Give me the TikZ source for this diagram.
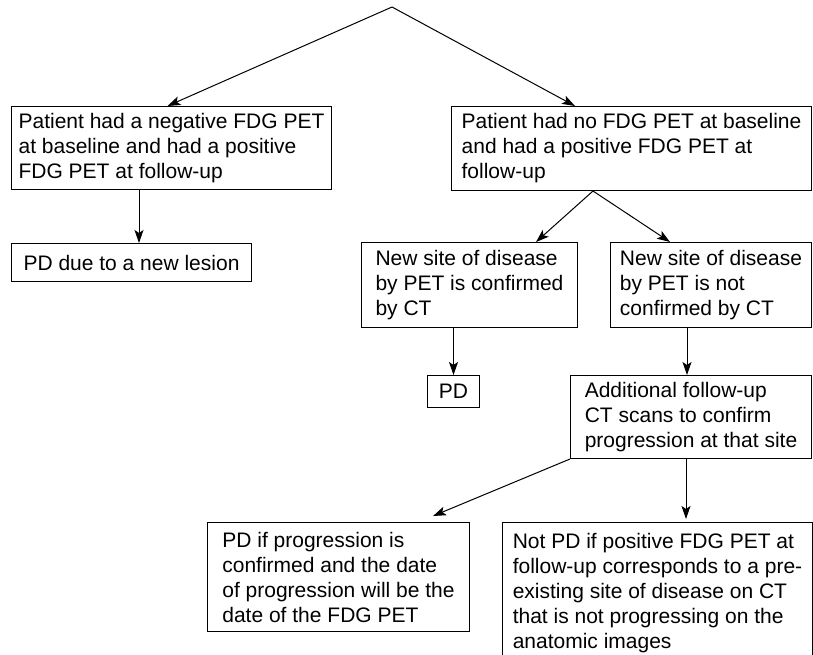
\documentclass[tikz,border=0pt]{standalone}
\usepackage{fontspec}
\setmainfont{Liberation Sans}
\usepackage{tikz}
\usetikzlibrary{arrows.meta,positioning}

\tikzset{
  box/.style={draw, line width=1pt, anchor=north west, align=left, inner sep=0pt,
    font=\fontsize{21}{25}\selectfont},
  arr/.style={line width=1pt, -{Stealth[length=13pt,width=9pt,inset=3pt]}}
}

\begin{document}
\begin{tikzpicture}[x=1pt,y=-1pt]
\useasboundingbox (0,0) rectangle (813,655);
\clip (0,0) rectangle (813,655);

\coordinate (top) at (392,7);

\node[box, minimum width=320pt, minimum height=83pt] (neg) at (11,106)
  {Patient had a negative FDG PET\\at baseline and had a positive\\FDG PET at follow-up};
\node[box, minimum width=360pt, minimum height=84pt] (nobase) at (451,106)
  {Patient had no FDG PET at baseline\\and had a positive FDG PET at\\follow-up};
\node[box, minimum width=240pt, minimum height=38pt] (lesion) at (11,243)
  {PD due to a new lesion};
\node[box, minimum width=216pt, minimum height=85pt] (conf) at (361,242)
  {New site of disease\\by PET is confirmed\\by CT};
\node[box, minimum width=201pt, minimum height=85pt] (notconf) at (610,242)
  {New site of disease\\by PET is not\\confirmed by CT};
\node[box, minimum width=52pt, minimum height=32pt] (pd) at (427,375) {PD};
\node[box, minimum width=241pt, minimum height=83pt] (addl) at (570,375)
  {Additional follow-up\\CT scans to confirm\\progression at that site};
\node[box, minimum width=262pt, minimum height=109pt] (pdif) at (207,522)
  {PD if progression is\\confirmed and the date\\of progression will be the\\date of the FDG PET};
\node[box, minimum width=310pt, minimum height=142pt] (notpd) at (502,522)
  {Not PD if positive FDG PET at\\follow-up corresponds to a pre-\\existing site of disease on CT\\that is not progressing on the\\anatomic images};

% connectors
\draw[arr] (top) -- ([xshift=-4pt]neg.north);
\draw[arr] (top) -- ([xshift=124pt]nobase.north west);
\draw[arr] ([xshift=128pt]neg.south west) -- ([xshift=128pt]lesion.north west);
\draw[arr] ([xshift=142pt]nobase.south west) -- ([xshift=-42pt]conf.north east);
\draw[arr] ([xshift=142pt]nobase.south west) -- ([xshift=60pt]notconf.north west);
\draw[arr] (pd.north |- conf.south) -- (pd.north);
\path ([xshift=117pt]addl.north west) coordinate (a1);
\draw[arr] (a1 |- notconf.south) -- (a1);
\draw[arr] (addl.south west) -- ([xshift=-37pt,yshift=6pt]pdif.north east);
\path ([xshift=116pt]addl.south west) coordinate (a2);
\draw[arr] (a2) -- ([yshift=3pt]a2 |- notpd.north);
\end{tikzpicture}
\end{document}
